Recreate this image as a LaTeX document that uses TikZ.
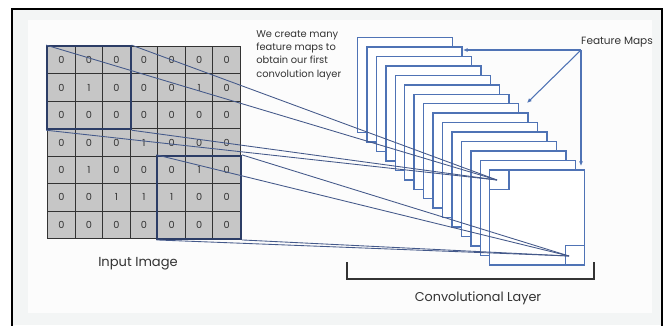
\documentclass[tikz,border=0pt]{standalone}
\usepackage{fontspec}
\setmainfont{Poppins}
\usetikzlibrary{arrows.meta,fit}
\definecolor{gridfill}{HTML}{C6C6C6}
\definecolor{gridline}{HTML}{333333}
\definecolor{winline}{HTML}{2C3D66}
\definecolor{mapblue}{HTML}{4F73B5}
\definecolor{connblue}{HTML}{44598A}
\definecolor{txt}{HTML}{333333}
\definecolor{bgout}{HTML}{F3F5F5}
\definecolor{bgin}{HTML}{FCFCFC}
\begin{document}
\begin{tikzpicture}[x=0.75pt,y=-0.75pt,
  cell/.style={draw=gridline, fill=gridfill, line width=0.8pt, anchor=north west,
    minimum width=20.68pt, minimum height=20.57pt, inner sep=0pt,
    font=\fontsize{7.3}{8}\selectfont, text=txt},
  win/.style={draw=winline, line width=1.3pt, inner sep=0pt},
  fmap/.style={draw=mapblue, fill=white, line width=1.1pt, anchor=north west,
    minimum width=71.25pt, minimum height=71.25pt, inner sep=0pt},
  sq/.style={draw=mapblue, line width=1.1pt, minimum width=14.5pt, minimum height=14.5pt, inner sep=0pt},
  conn/.style={draw=connblue, line width=0.65pt},
  fmarrow/.style={draw=mapblue, line width=0.8pt, -{Latex[length=3.5pt,width=3pt]}},
  bracket/.style={draw=txt, line width=0.8pt},
  lbl/.style={text=txt, inner sep=0pt}]
\useasboundingbox (0,0) rectangle (670,325);
% background
\fill[white] (0,0) rectangle (670,325);
\fill[bgout] (12,9) rectangle (662,325);
\fill[bgin] (28,20) rectangle (652,313);
\draw[black, line width=1.6pt] (12,330) -- (12,9) -- (662,9) -- (662,330);
% input grid
\foreach \row [count=\r from 0] in {{0,0,0,0,0,0,0},{0,1,0,0,0,1,0},{0,0,0,0,0,0,0},{0,0,0,1,0,0,0},{0,1,0,0,0,1,0},{0,0,1,1,1,0,0},{0,0,0,0,0,0,0}}{
  \foreach \v [count=\c from 0] in \row {
    \node[cell] (c-\r-\c) at ({47+27.57*\c},{46+27.43*\r}) {\v};
  }
}
\node[win, fit=(c-0-0)(c-2-2)] (win1) {};
\node[win, fit=(c-4-4)(c-6-6)] (win2) {};
% feature maps
\foreach \i in {0,...,14}{
  \node[fmap] (fm\i) at ({356.7+9.45*\i},{36.7+9.47*\i}) {};
}
\node[sq, anchor=north west] (s1) at (fm14.north west) {};
\node[sq, anchor=south east] (s2) at (fm14.south east) {};
% connectors
\coordinate (p1) at (497,180);
\coordinate (p2) at (569,256);
\foreach \a in {north west,north east,south west,south east}{
  \draw[conn] (win1.\a) -- (p1);
  \draw[conn] (win2.\a) -- (p2);
}
% labels
\node[lbl, anchor=north west, align=left, font=\fontsize{7.4}{10}\selectfont] (note) at (256,30)
  {We create many\\feature maps to\\obtain our first\\convolution layer};
\node[lbl, font=\fontsize{7.9}{9}\selectfont] (fmlabel) at (617,42) {Feature Maps};
\coordinate (fmsrc) at (581,50);
\coordinate (t1) at (463,50);
\coordinate (t2) at (527,103);
\coordinate (t3) at (581,166);
\draw[fmarrow] (fmsrc) -- (t1);
\draw[fmarrow] (fmsrc) -- (t2);
\draw[fmarrow] (fmsrc) -- (t3);
\node[lbl, font=\fontsize{9.8}{11}\selectfont] (inlabel) at (138,264) {Input Image};
\coordinate (b1) at (347,262);
\coordinate (b2) at (347,279);
\coordinate (b3) at (594,279);
\coordinate (b4) at (594,262);
\draw[bracket] (b1) -- (b2) -- (b3) -- (b4);
\node[lbl, font=\fontsize{9.6}{11}\selectfont] (convlabel) at (478,298) {Convolutional Layer};
\end{tikzpicture}
\end{document}
